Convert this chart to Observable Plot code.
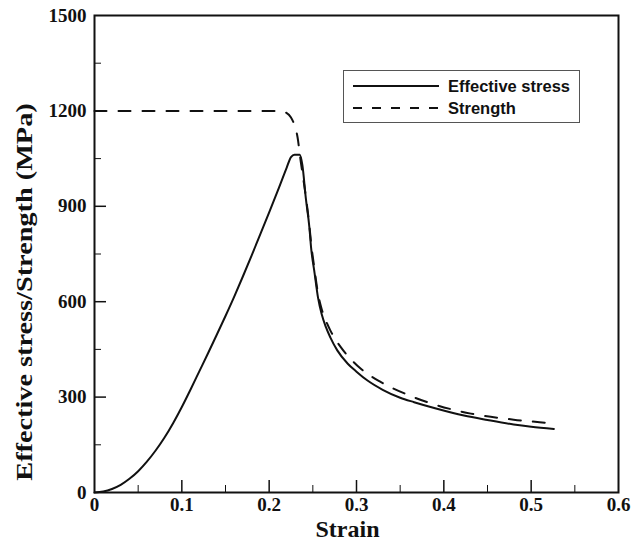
<!DOCTYPE html>
<html>
<head>
<meta charset="utf-8">
<script src="https://cdn.jsdelivr.net/npm/d3@7"></script>
<script src="https://cdn.jsdelivr.net/npm/@observablehq/plot@0.6"></script>
<style>
  body { margin: 0; background: #fff; }
  #wrap { position: relative; width: 643px; height: 548px; }
  #legend { position: absolute; left: 343px; top: 70px; width: 235px; height: 51px;
    border: 1px solid #555; background: #fff; font-family: "Liberation Sans", Arial, sans-serif;
    font-weight: bold; font-size: 16.5px; color: #111; }
  #legend .row { position: absolute; left: 0; height: 20px; display: flex; align-items: center; }
  #legend svg { margin-left: 9px; margin-right: 9px; }
</style>
</head>
<body>
<div id="wrap"></div>
<script>
// Effective stress curve
const stressStrain = [0,0.01,0.02,0.03,0.04,0.05,0.06,0.07,0.08,0.09,0.10,0.11,0.12,0.13,0.14,0.15,0.16,0.17,0.18,0.19,0.20,0.21,0.22,0.225,0.229,0.235,0.238,0.242,0.246,0.248,0.252,0.256,0.260,0.265,0.270,0.278,0.29,0.30,0.3126,0.33,0.35,0.366,0.39,0.423,0.45,0.48,0.50,0.526];
const stressValue  = [0,3,11,24,43,67,97,132,172,218,269,324,381,438,496,555,616,680,746,813,881,950,1021,1055,1062,1062,1030,925,835,770,690,612,562,520,488,447,405,380,352,323,298,284,265,242,228,214,207,200];
// Strength curve
const strengthStrain = [0,0.213,0.219,0.2248,0.229,0.2325,0.236,0.242,0.246,0.248,0.252,0.256,0.260,0.265,0.270,0.282,0.295,0.305,0.328,0.358,0.389,0.431,0.48,0.52,0.526];
const strengthValue  = [1200,1200,1195,1180,1155,1117,1044,930,840,785,700,625,578,540,510,457,415,389,347,308,277,248,229,218,216];
// Ticks
const xMajor = [0.1,0.2,0.3,0.4,0.5];
const xMinor = [0.05,0.15,0.25,0.35,0.45,0.55];
const xLabels = [0,0.1,0.2,0.3,0.4,0.5,0.6];
const yMajor = [300,600,900,1200];
const yMinor = [150,450,750,1050,1350];
const yLabels = [0,300,600,900,1200,1500];
const seriesNames = ["Effective stress","Strength"];
const xTitle = "Strain";
const yTitle = "Effective stress/Strength (MPa)";

const stress = stressStrain.map((x,i)=>({x, y: stressValue[i]}));
const strength = strengthStrain.map((x,i)=>({x, y: strengthValue[i]}));

const W = 643, H = 548, mL = 94, mR = 25, mT = 15, mB = 56;
const iW = W - mL - mR, iH = H - mT - mB;
const serif = "'Liberation Serif', 'Times New Roman', serif";

const chart = Plot.plot({
  width: W, height: H,
  marginLeft: mL, marginRight: mR, marginTop: mT, marginBottom: mB,
  x: {domain: [0, 0.6], axis: null},
  y: {domain: [0, 1500], axis: null},
  style: {fontFamily: serif, background: "#fff"},
  marks: [
    Plot.line(strength, {x: "x", y: "y", stroke: "#111", strokeWidth: 2, strokeDasharray: "12,12", curve: "monotone-x"}),
    Plot.line(stress, {x: "x", y: "y", stroke: "#111", strokeWidth: 2, curve: "monotone-x"}),
    Plot.ruleX(xMajor, {x: d => d, insetTop: iH - 12, stroke: "#111", strokeWidth: 1.5}),
    Plot.ruleX(xMinor, {x: d => d, insetTop: iH - 7, stroke: "#111", strokeWidth: 1}),
    Plot.ruleY(yMajor, {y: d => d, insetRight: iW - 12, stroke: "#111", strokeWidth: 1.5}),
    Plot.ruleY(yMinor, {y: d => d, insetRight: iW - 7, stroke: "#111", strokeWidth: 1}),
    Plot.frame({stroke: "#111", strokeWidth: 2}),
    Plot.text(xLabels, {x: d => d, text: d => String(d), frameAnchor: "bottom", dy: 18, fontSize: 19, fontWeight: "bold", fill: "#111"}),
    Plot.text(yLabels, {y: d => d, text: d => String(d), frameAnchor: "left", dx: -8, textAnchor: "end", fontSize: 19, fontWeight: "bold", fill: "#111"}),
    Plot.text([xTitle], {frameAnchor: "bottom", dx: -9, dy: 44, textAnchor: "middle", fontSize: 24, fontWeight: "bold", fill: "#111"}),
    Plot.text([yTitle], {frameAnchor: "left", dx: -70, dy: 38, rotate: -90, textAnchor: "middle", fontSize: 23, fontWeight: "bold", fill: "#111"})
  ]
});
const wrap = document.getElementById("wrap");
wrap.appendChild(chart);

// stretch the rotated title along its length
d3.select(chart).selectAll("text").each(function() {
  if (this.textContent === yTitle) {
    const t = this.getAttribute("transform") || "";
    this.setAttribute("transform", t + " scale(1.23,1)");
  }
});

// Legend
const legend = document.createElement("div");
legend.id = "legend";
const dashes = ["none", "9,10"];
seriesNames.forEach((name, i) => {
  const row = document.createElement("div");
  row.className = "row";
  row.style.top = (i === 0 ? 5 : 27) + "px";
  row.innerHTML = `<svg width="86" height="4"><line x1="0" x2="86" y1="2" y2="2" stroke="#111" stroke-width="2" stroke-dasharray="${dashes[i]}"/></svg><span>${name}</span>`;
  legend.appendChild(row);
});
wrap.appendChild(legend);
</script>
</body>
</html>
